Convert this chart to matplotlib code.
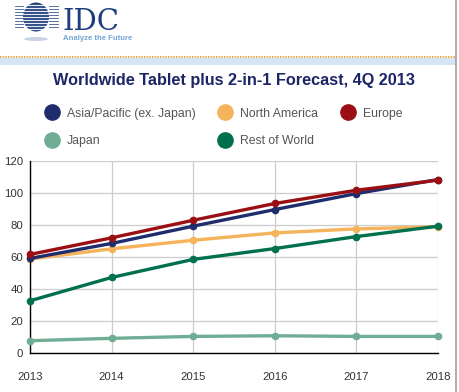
import matplotlib
matplotlib.use("Agg")
import matplotlib.pyplot as plt
from matplotlib.lines import Line2D
from matplotlib.patches import Rectangle, Ellipse

years = [2013, 2014, 2015, 2016, 2017, 2018]
asia_pacific = [59.0, 68.4, 79.2, 89.6, 99.6, 108.4]
north_america = [58.6, 65.0, 70.4, 75.0, 77.5, 78.8]
europe = [61.5, 71.9, 82.9, 93.4, 101.7, 108.0]
japan = [7.5, 9.0, 10.2, 10.6, 10.2, 10.2]
rest_of_world = [32.5, 47.1, 58.4, 65.2, 72.7, 79.2]
yticks = [0, 20, 40, 60, 80, 100, 120]

title = "Worldwide Tablet plus 2-in-1 Forecast, 4Q 2013"
series = [
    ("Asia/Pacific (ex. Japan)", asia_pacific, "#1f2d6c"),
    ("North America", north_america, "#f5b45c"),
    ("Europe", europe, "#9a0f13"),
    ("Japan", japan, "#6fae95"),
    ("Rest of World", rest_of_world, "#00704f"),
]

plt.rcParams['font.family'] = ['Liberation Sans', 'DejaVu Sans']
W, H = 460, 392
fig = plt.figure(figsize=(W / 100, H / 100), dpi=100)
fig.patch.set_facecolor("white")

def fx(x):
    return x / W

def fy(y):
    return 1 - y / H

# Header band / logo
fig.add_artist(Line2D([0, fx(456)], [fy(57), fy(57)], color="#e9a53c", lw=1.2, ls=(0, (1, 0.6))))
fig.add_artist(Rectangle((0, fy(65)), fx(456), fy(58) - fy(65), color="#d5e5f3", lw=0))
fig.add_artist(Line2D([fx(456), fx(456)], [0, 1], color="#a0a0a0", lw=1.2))

# logo globe
fig.add_artist(Ellipse((fx(36), fy(17)), fx(26), fy(0) - fy(29), color="#1e3d7d", lw=0))
for yy in range(5, 32, 3):
    fig.add_artist(Line2D([fx(15), fx(58)], [fy(yy), fy(yy)], color="white", lw=0.9, alpha=0.9))
for yy in range(6, 30, 3):
    fig.add_artist(Line2D([fx(15), fx(23)], [fy(yy), fy(yy)], color="#3b5a98", lw=0.6))
    fig.add_artist(Line2D([fx(49), fx(58)], [fy(yy), fy(yy)], color="#3b5a98", lw=0.6))
fig.add_artist(Ellipse((fx(36), fy(39)), fx(24), fy(0) - fy(4), color="#c9d3e6", lw=0))
fig.text(fx(62), fy(30), "IDC", fontsize=21, family="DejaVu Serif", color="#1e3d7d", va="baseline", ha="left")
fig.text(fx(63), fy(40), "Analyze the Future", fontsize=5.6, color="#72a7d8", fontweight="bold", va="baseline", ha="left")

# title
fig.text(fx(234), fy(80), title, fontsize=11.7, fontweight="bold", color="#1c2567", ha="center", va="center")

ax = fig.add_axes([fx(30), fy(352.7), fx(438) - fx(30), fy(161) - fy(352.7)])
z = {0: 3, 1: 2, 2: 4, 3: 3, 4: 5}
for i, (name, vals, col) in enumerate(series):
    ax.plot(years, vals, color=col, lw=2.4, marker="o", markersize=4.5, zorder=z[i], clip_on=False)

ax.set_xlim(2013, 2018)
ax.set_ylim(0, 120)
ax.set_yticks(yticks)
ax.set_xticks(years)
ax.grid(True, color="#cccccc", lw=0.9)
ax.set_axisbelow(True)
for s in ["top", "right"]:
    ax.spines[s].set_visible(False)
ax.spines["left"].set_color("black")
ax.spines["bottom"].set_color("black")
ax.spines["left"].set_linewidth(1.0)
ax.spines["bottom"].set_linewidth(1.0)
ax.tick_params(axis="both", length=0, labelsize=8.2, labelcolor="#333333")
ax.tick_params(axis="x", pad=14)
ax.tick_params(axis="y", pad=5)

handles = []
labels = []
for idx in [0, 3, 1, 4, 2]:
    name, vals, col = series[idx]
    handles.append(Line2D([], [], ls="none", marker="o", markersize=11, color=col))
    labels.append(name)
fig.legend(handles, labels, ncol=3, loc="center", bbox_to_anchor=(fx(224), fy(127.5)),
           frameon=False, fontsize=8.8, handlelength=1.0, handletextpad=0.7,
           columnspacing=1.95, labelspacing=1.3, labelcolor="#555555")

fig.savefig("out.png", dpi=100)
